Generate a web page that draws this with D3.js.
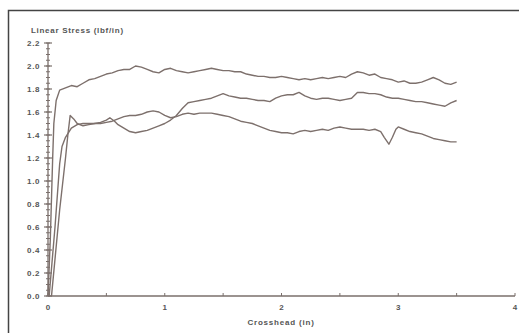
<!DOCTYPE html>
<html>
<head>
<meta charset="utf-8">
<script src="https://cdn.jsdelivr.net/npm/d3@7"></script>
<style>
  body { margin: 0; background: #fff; }
  svg { display: block; }
  text { font-family: "Liberation Sans", Arial, sans-serif; font-weight: bold; fill: #555; }
</style>
</head>
<body>
<svg width="519" height="333"></svg>
<script>
// crosshead (in) / linear stress (lbf/in), three specimens
const seriesA = [
  [0, 0], [0.02, 0.5], [0.04, 1.2], [0.05, 1.5], [0.07, 1.7], [0.1, 1.79], [0.15, 1.81],
  [0.2, 1.83], [0.25, 1.82], [0.3, 1.85], [0.35, 1.88], [0.4, 1.89], [0.45, 1.91], [0.5, 1.93],
  [0.55, 1.94], [0.6, 1.96], [0.65, 1.97], [0.7, 1.97], [0.75, 2.0], [0.8, 1.99], [0.85, 1.97],
  [0.9, 1.95], [0.95, 1.94], [1.0, 1.97], [1.05, 1.98], [1.1, 1.96], [1.15, 1.95], [1.2, 1.94],
  [1.25, 1.95], [1.3, 1.96], [1.35, 1.97], [1.4, 1.98], [1.45, 1.97], [1.5, 1.96], [1.55, 1.96],
  [1.6, 1.95], [1.65, 1.95], [1.7, 1.93], [1.75, 1.92], [1.8, 1.91], [1.85, 1.91], [1.9, 1.9],
  [1.95, 1.9], [2.0, 1.91], [2.05, 1.9], [2.1, 1.89], [2.15, 1.88], [2.2, 1.89], [2.25, 1.88],
  [2.3, 1.89], [2.35, 1.9], [2.4, 1.89], [2.45, 1.9], [2.5, 1.91], [2.55, 1.9], [2.6, 1.93],
  [2.65, 1.95], [2.7, 1.94], [2.75, 1.92], [2.8, 1.93], [2.85, 1.9], [2.9, 1.89], [2.95, 1.88],
  [3.0, 1.86], [3.05, 1.87], [3.1, 1.85], [3.15, 1.85], [3.2, 1.86], [3.25, 1.88], [3.3, 1.9],
  [3.35, 1.88], [3.4, 1.85], [3.45, 1.84], [3.5, 1.86]
];
const seriesB = [
  [0.01, 0], [0.06, 0.6], [0.1, 1.15], [0.12, 1.3], [0.15, 1.38], [0.2, 1.46], [0.25, 1.49],
  [0.3, 1.5], [0.35, 1.5], [0.4, 1.5], [0.45, 1.51], [0.5, 1.53], [0.53, 1.55], [0.57, 1.52],
  [0.6, 1.49], [0.65, 1.46], [0.7, 1.43], [0.75, 1.42], [0.8, 1.43], [0.85, 1.44], [0.9, 1.46],
  [0.95, 1.48], [1.0, 1.5], [1.05, 1.53], [1.1, 1.57], [1.15, 1.63], [1.2, 1.68], [1.25, 1.69],
  [1.3, 1.7], [1.35, 1.71], [1.4, 1.72], [1.45, 1.74], [1.5, 1.76], [1.55, 1.74], [1.6, 1.73],
  [1.65, 1.72], [1.7, 1.72], [1.75, 1.71], [1.8, 1.7], [1.85, 1.7], [1.9, 1.69], [1.95, 1.72],
  [2.0, 1.74], [2.05, 1.75], [2.1, 1.75], [2.15, 1.77], [2.2, 1.74], [2.25, 1.72], [2.3, 1.71],
  [2.35, 1.72], [2.4, 1.72], [2.45, 1.71], [2.5, 1.7], [2.55, 1.71], [2.6, 1.72], [2.65, 1.77],
  [2.7, 1.77], [2.75, 1.76], [2.8, 1.76], [2.85, 1.75], [2.9, 1.73], [2.95, 1.72], [3.0, 1.72],
  [3.05, 1.71], [3.1, 1.7], [3.15, 1.69], [3.2, 1.69], [3.25, 1.68], [3.3, 1.67], [3.35, 1.66],
  [3.4, 1.65], [3.45, 1.68], [3.5, 1.7]
];
const seriesC = [
  [0.03, 0], [0.1, 0.75], [0.15, 1.2], [0.17, 1.4], [0.19, 1.57], [0.22, 1.54], [0.25, 1.5],
  [0.3, 1.48], [0.35, 1.49], [0.4, 1.5], [0.45, 1.5], [0.5, 1.51], [0.55, 1.52], [0.6, 1.54],
  [0.65, 1.56], [0.7, 1.57], [0.75, 1.57], [0.8, 1.58], [0.85, 1.6], [0.9, 1.61], [0.95, 1.6],
  [1.0, 1.57], [1.05, 1.55], [1.1, 1.56], [1.15, 1.58], [1.2, 1.59], [1.25, 1.58], [1.3, 1.59],
  [1.35, 1.59], [1.4, 1.59], [1.45, 1.58], [1.5, 1.57], [1.55, 1.56], [1.6, 1.54], [1.65, 1.52],
  [1.7, 1.51], [1.75, 1.5], [1.8, 1.48], [1.85, 1.46], [1.9, 1.44], [1.95, 1.43], [2.0, 1.42],
  [2.05, 1.42], [2.1, 1.41], [2.15, 1.43], [2.2, 1.44], [2.25, 1.43], [2.3, 1.44], [2.35, 1.45],
  [2.4, 1.44], [2.45, 1.46], [2.5, 1.47], [2.55, 1.46], [2.6, 1.45], [2.65, 1.45], [2.7, 1.45],
  [2.75, 1.44], [2.8, 1.45], [2.85, 1.43], [2.88, 1.38], [2.92, 1.32], [2.95, 1.38], [2.98, 1.45],
  [3.0, 1.47], [3.05, 1.45], [3.1, 1.43], [3.15, 1.42], [3.2, 1.41], [3.25, 1.39], [3.3, 1.37],
  [3.35, 1.36], [3.4, 1.35], [3.45, 1.34], [3.5, 1.34]
];

const xTicks = [0, 1, 2, 3, 4];
const yTicks = [0, 0.2, 0.4, 0.6, 0.8, 1.0, 1.2, 1.4, 1.6, 1.8, 2.0, 2.2];

const svg = d3.select('svg'),
  width = +svg.attr('width'),
  height = +svg.attr('height');

const x = d3.scaleLinear().domain([0, 4]).range([48, 515]);
const y = d3.scaleLinear().domain([0, 2.2]).range([296, 43]);

// frame (top and left edge only)
svg.append('path')
  .attr('d', `M8.5,${height} V10.5 H${width}`)
  .attr('fill', 'none')
  .attr('stroke', '#444')
  .attr('stroke-width', 1.5);

const axisColor = '#7a6f6b';

// y axis with minor ticks every 0.05
const yAxis = svg.append('g').attr('transform', `translate(${x(0)},0)`);
yAxis.append('line')
  .attr('y1', y(0)).attr('y2', y(2.2))
  .attr('stroke', axisColor).attr('stroke-width', 1.3);
yAxis.selectAll('.minor')
  .data(d3.range(0, 2.2001, 0.05))
  .enter().append('line')
  .attr('x1', -2).attr('x2', 2)
  .attr('y1', d => y(d)).attr('y2', d => y(d))
  .attr('stroke', axisColor).attr('stroke-width', 1);
yAxis.selectAll('.major')
  .data(yTicks)
  .enter().append('line')
  .attr('x1', -4).attr('x2', 4)
  .attr('y1', d => y(d)).attr('y2', d => y(d))
  .attr('stroke', axisColor).attr('stroke-width', 1.2);
yAxis.selectAll('text')
  .data(yTicks)
  .enter().append('text')
  .attr('x', -8)
  .attr('y', d => y(d) + 3)
  .attr('text-anchor', 'end')
  .attr('font-size', 8)
  .attr('letter-spacing', 0.6)
  .text(d3.format('.1f'));

// x axis with ticks every 0.5
const xAxis = svg.append('g').attr('transform', `translate(0,${y(0)})`);
xAxis.append('line')
  .attr('x1', x(0)).attr('x2', x(4))
  .attr('stroke', axisColor).attr('stroke-width', 1.3);
xAxis.selectAll('.tick')
  .data(d3.range(0, 4.001, 0.5))
  .enter().append('line')
  .attr('x1', d => x(d)).attr('x2', d => x(d))
  .attr('y1', 0).attr('y2', -3)
  .attr('stroke', axisColor).attr('stroke-width', 1);
xAxis.selectAll('text')
  .data(xTicks)
  .enter().append('text')
  .attr('x', d => x(d))
  .attr('y', 14)
  .attr('text-anchor', 'middle')
  .attr('font-size', 8)
  .text(d => d);

svg.append('text')
  .attr('x', 31).attr('y', 33)
  .attr('font-size', 8)
  .attr('letter-spacing', 0.7)
  .text('Linear Stress (lbf/in)');

svg.append('text')
  .attr('x', 281).attr('y', 325)
  .attr('text-anchor', 'middle')
  .attr('font-size', 8)
  .attr('letter-spacing', 0.8)
  .text('Crosshead (in)');

const line = d3.line()
  .x(d => x(d[0]))
  .y(d => y(d[1]));

svg.selectAll('.series')
  .data([seriesA, seriesB, seriesC])
  .enter().append('path')
  .attr('class', 'series')
  .attr('d', line)
  .attr('fill', 'none')
  .attr('stroke', '#7d706c')
  .attr('stroke-width', 1.4)
  .attr('stroke-linejoin', 'round');
</script>
</body>
</html>
